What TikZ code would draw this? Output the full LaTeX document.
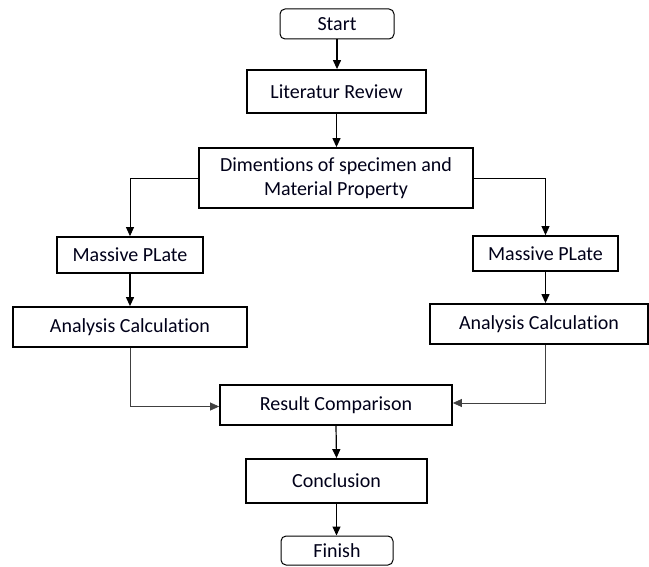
\documentclass[tikz,border=0pt]{standalone}
\usepackage{fontspec}
\setmainfont{Carlito}[RawFeature={-liga;-calt;-dlig}]
\usetikzlibrary{arrows.meta,calc}
\begin{document}
\begin{tikzpicture}[x=1bp,y=-1bp,
  every node/.style={font=\fontsize{20bp}{24bp}\selectfont, text=black!90!blue, inner sep=0pt, align=center},
  thickbox/.style={draw, line width=1.8bp, rectangle},
  termbox/.style={draw, line width=1bp, rectangle, rounded corners=5bp},
  arr/.style={-{Triangle[length=9bp,width=8bp]}, line width=1.2bp},
  thinarr/.style={-{Triangle[length=9bp,width=8bp]}, line width=0.7bp, draw=black!75}
]
\useasboundingbox (0,0) rectangle (649,567);
\fill[white] (0,0) rectangle (649,567);

\node[termbox, minimum width=114bp, minimum height=30bp] (start) at (337,24) {Start};
\node[thickbox, minimum width=179bp, minimum height=43bp] (lit) at (336.5,91.5) {Literatur Review};
\node[thickbox, minimum width=274bp, minimum height=60bp] (dim) at (336,178) {Dimentions of specimen and\\Material Property};
\node[thickbox, minimum width=146bp, minimum height=36bp] (mpL) at (130,255) {Massive PLate};
\node[thickbox, minimum width=145bp, minimum height=35bp] (mpR) at (545.5,253.5) {Massive PLate};
\node[thickbox, minimum width=234bp, minimum height=40bp] (anL) at (130,327) {Analysis Calculation};
\node[thickbox, minimum width=218bp, minimum height=40bp] (anR) at (539,324) {Analysis Calculation};
\node[thickbox, minimum width=232bp, minimum height=40bp] (res) at (336,405) {Result Comparison};
\node[thickbox, minimum width=181bp, minimum height=44bp] (con) at (336.5,481) {Conclusion};
\node[termbox, minimum width=112bp, minimum height=29bp] (fin) at (337,550.5) {Finish};

\draw[arr] (start.south) -- (start.south |- lit.north);
\draw[arr] (lit.south) -- (lit.south |- dim.north);
\draw[arr, line width=0.8bp] (dim.west) -| (mpL.north);
\draw[arr, line width=0.8bp] (dim.east) -| (mpR.north);
\draw[arr] (mpL.south) -- (anL.north -| mpL.south);
\draw[arr] (mpR.south) -- (anR.north -| mpR.south);
\draw[thinarr] (anL.south) |- ($(res.west)+(0,1.5)$);
\draw[thinarr] (anR.south -| mpR.south) |- ($(res.east)+(0,-2)$);
\draw[arr] (res.south) -- (con.north);
\draw[arr] (con.south) -- (con.south |- fin.north);
\end{tikzpicture}
\end{document}
